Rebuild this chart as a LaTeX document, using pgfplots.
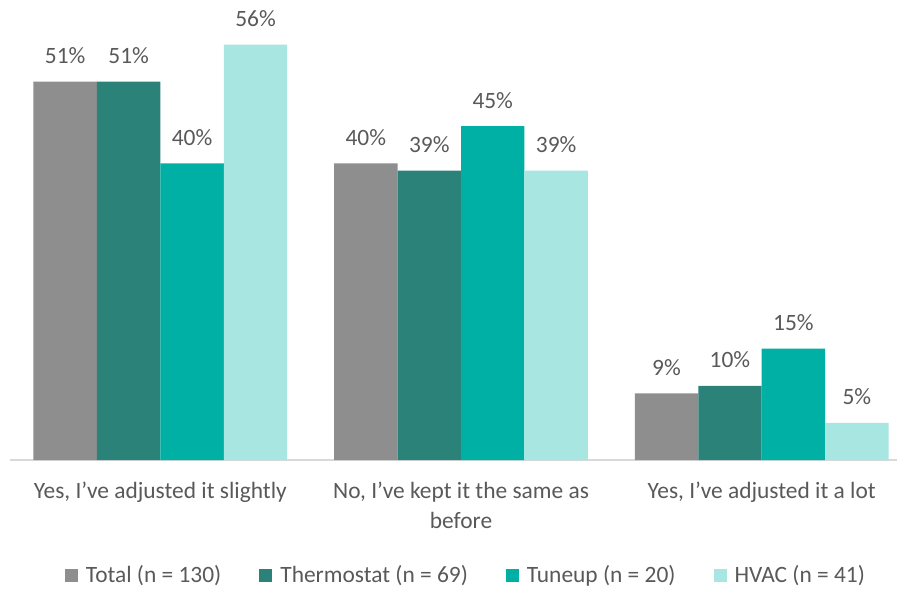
\documentclass[border=0pt]{standalone}
\usepackage{pgfplots}
\pgfplotsset{compat=1.18}
\usepackage{fontspec}
\setmainfont{Carlito}
\definecolor{cgray}{HTML}{8E8E8E}
\definecolor{cdark}{HTML}{2A8279}
\definecolor{cteal}{HTML}{00B0A4}
\definecolor{clight}{HTML}{A8E6E2}
\definecolor{ctext}{HTML}{595959}
\definecolor{caxis}{HTML}{D9D9D9}
\begin{document}
\begin{tikzpicture}
\begin{axis}[
  name=ax,
  scale only axis,
  width=887bp, height=445bp,
  xmin=-0.5, xmax=2.45,
  ymin=0, ymax=60,
  ybar, bar width=0.211,
  /pgf/number format/assume math mode=true,
  axis x line=bottom,
  axis y line=none,
  axis line style={caxis, line width=1.2bp, -},
  xtick={0,1,2},
  xticklabels={{Yes, I’ve adjusted it slightly},{No, I’ve kept it the same as\\before},{Yes, I’ve adjusted it a lot}},
  major tick length=0pt,
  xticklabel style={font=\fontsize{23.5}{30}\selectfont, text=ctext, align=center, anchor=north, inner sep=0pt, yshift=-22bp},
  nodes near coords={\pgfmathprintnumber{\pgfplotspointmeta}\%},
  every node near coord/.append style={font=\fontsize{23.5}{28}\selectfont, text=ctext, anchor=base, inner sep=0pt, yshift=18bp},
  legend columns=4,
  legend style={at={(0.514,0)}, anchor=center, yshift=-115bp, draw=none, fill=none,
    font=\fontsize{23.5}{28}\selectfont, text=ctext,
    /tikz/every even column/.append style={column sep=36bp},
    /tikz/every odd column/.append style={column sep=6bp}},
  legend image code/.code={\fill[#1] (0bp,-7bp) rectangle (13bp,6bp);},
]
\addplot[fill=cgray, draw=none, bar shift=-0.3165] coordinates {(0,51) (1,40) (2,9)};
\addplot[fill=cdark, draw=none, bar shift=-0.1055] coordinates {(0,51) (1,39) (2,10)};
\addplot[fill=cteal, draw=none, bar shift=0.1055] coordinates {(0,40) (1,45) (2,15)};
\addplot[fill=clight, draw=none, bar shift=0.3165] coordinates {(0,56) (1,39) (2,5)};
\legend{Total (n = 130), Thermostat (n = 69), Tuneup (n = 20), HVAC (n = 41)}
\end{axis}
\pgfresetboundingbox
\path (ax.south west) ++(-10bp,-129bp) rectangle ++(902bp,589bp);
\end{tikzpicture}
\end{document}
